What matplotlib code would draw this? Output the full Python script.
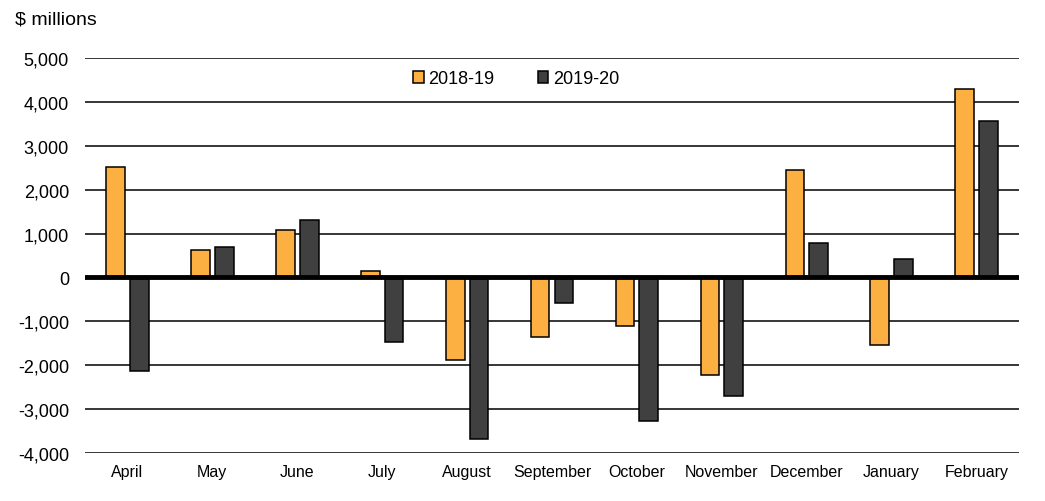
import numpy as np
import matplotlib.pyplot as plt
from matplotlib.ticker import FuncFormatter

plt.rcParams['font.family'] = ['Liberation Sans', 'DejaVu Sans']

# monthly values, $ millions
months = ['April', 'May', 'June', 'July', 'August', 'September', 'October',
          'November', 'December', 'January', 'February']
fy2018_19 = [2520, 630, 1090, 140, -1890, -1360, -1110, -2230, 2440, -1540, 4300]
fy2019_20 = [-2140, 700, 1310, -1480, -3680, -590, -3270, -2700, 780, 420, 3570]
series_names = ['2018-19', '2019-20']

orange = '#FBB041'
dark = '#404040'

fig = plt.figure(figsize=(10.45, 5.02), dpi=100)
ax = fig.add_axes([85/1045, 1 - 454/502, (1019 - 85)/1045, (454 - 59)/502])

x = np.arange(len(months))
w = 0.22
ax.bar(x - 0.14, fy2018_19, w, color=orange, edgecolor='black', linewidth=1.1,
       label=series_names[0], zorder=2)
ax.bar(x + 0.14, fy2019_20, w, color=dark, edgecolor='black', linewidth=1.1,
       label=series_names[1], zorder=2)

ax.axhline(0, color='black', linewidth=3.5, zorder=3)

ax.set_xlim(-0.5, len(months) - 0.5)
ax.set_ylim(-4000, 5000)
ax.set_yticks(np.arange(-4000, 5001, 1000))
ax.yaxis.set_major_formatter(FuncFormatter(lambda v, p: f'{int(v):,}'))
ax.yaxis.grid(True, color='black', linewidth=1.1, zorder=0)
ax.set_axisbelow(True)

ax.set_xticks(x)
ax.set_xticklabels(months, fontsize=11.5)
ax.tick_params(axis='x', length=0, pad=8)
ax.tick_params(axis='y', length=0, pad=11.5, labelsize=13)
for s in ax.spines.values():
    s.set_visible(False)

fig.text(15/1045, 1 - 20/502, '$ millions', fontsize=14, ha='left', va='center')

fig.legend(loc='center', bbox_to_anchor=(516/1045, 1 - 80/502), ncol=2,
           frameon=False, fontsize=13, handlelength=0.6, handleheight=0.6,
           handletextpad=0.25, columnspacing=2.4)

fig.savefig('out.png', dpi=100)
